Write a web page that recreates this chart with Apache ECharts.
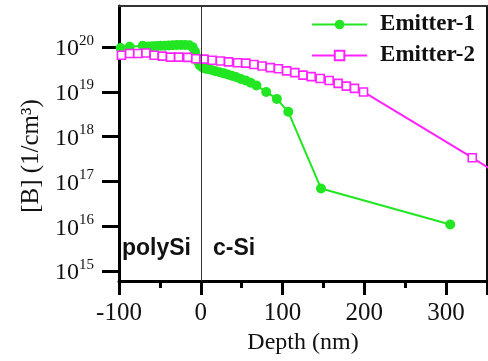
<!DOCTYPE html>
<html>
<head>
<meta charset="utf-8">
<title>Boron profile</title>
<script src="https://cdn.jsdelivr.net/npm/echarts@6/dist/echarts.min.js"></script>
<style>
  html, body { margin: 0; padding: 0; background: #fff; }
  #main { width: 488px; height: 361px; }
</style>
</head>
<body>
<div id="main"></div>
<script type="text/javascript">
// Emitter-1 (green dots)
var depth1 = [-98, -87, -71, -64, -59, -54, -49, -44, -39, -34, -29, -24, -19, -14, -10, -7, -5, -3, -1,
              2, 6, 10, 14, 18, 23, 28, 33, 38, 43, 49, 55, 61, 68, 80, 93, 107, 147, 305];
var conc1 = [9.6e19, 1.02e20, 1.07e20, 1.04e20, 1.05e20, 1.06e20, 1.07e20, 1.08e20, 1.09e20, 1.1e20, 1.12e20, 1.12e20, 1.12e20, 1.1e20, 1.0e20, 8e19, 6e19, 4.6e19, 3.9e19,
             3.5e19, 3.3e19, 3.2e19, 3.05e19, 2.9e19, 2.75e19, 2.6e19, 2.45e19, 2.3e19, 2.15e19, 1.95e19, 1.8e19, 1.6e19, 1.4e19, 1.0e19, 7e18, 3.6e18, 7e16, 1.1e16];
// Emitter-2 (magenta open squares)
var depth2 = [-97, -87, -77, -67, -57, -47, -37, -27, -16, -6, 4, 14, 24, 34, 45, 55, 65, 75, 85, 95,
              105, 115, 125, 135, 146, 157, 168, 178, 188, 199, 332, 400];
var conc2 = [6.6e19, 7.2e19, 7.2e19, 7.4e19, 6.6e19, 6.3e19, 6.0e19, 6.0e19, 5.9e19, 5.5e19, 5.4e19, 5.1e19, 4.9e19, 4.7e19, 4.5e19, 4.4e19, 4.1e19, 3.8e19, 3.5e19, 3.3e19,
             2.95e19, 2.7e19, 2.37e19, 2.2e19, 2.0e19, 1.8e19, 1.55e19, 1.35e19, 1.2e19, 1.0e19, 3.4e17, 5.6e16];
var yTicks = [1e15, 1e16, 1e17, 1e18, 1e19, 1e20];

function pairs(xs, ys) {
    return xs.map(function (x, i) { return [x, ys[i]]; });
}

var serif = "'Liberation Serif', 'Times New Roman', serif";
var myChart = echarts.init(document.getElementById('main'));
var option = {
    animation: false,
    grid: { left: 119, right: 1, top: 6, bottom: 80, show: true, borderColor: '#111', borderWidth: 2 },
    legend: {
        orient: 'vertical',
        right: 8,
        top: 8,
        itemWidth: 55,
        itemHeight: 12,
        itemGap: 8,
        textStyle: { fontFamily: serif, fontWeight: 'bold', fontSize: 23, color: '#111', lineHeight: 21, padding: [0, 0, 0, 8] },
        data: ['Emitter-1', 'Emitter-2']
    },
    xAxis: [{
        type: 'value',
        min: -100,
        max: 350,
        interval: 100,
        name: 'Depth (nm)',
        nameLocation: 'middle',
        nameGap: 50,
        nameTextStyle: { fontFamily: serif, fontSize: 24, color: '#111' },
        axisLine: { onZero: false, lineStyle: { color: '#000', width: 3 } },
        axisTick: { inside: false, length: 14, lineStyle: { color: '#000', width: 3 } },
        minorTick: { show: true, splitNumber: 2, length: 7, lineStyle: { color: '#000', width: 3 } },
        axisLabel: { margin: 20, fontFamily: serif, fontSize: 25, color: '#111', showMaxLabel: false },
        splitLine: { show: false }
    }, {
        type: 'value',
        position: 'top',
        min: -100,
        max: 350,
        axisLine: { show: true, onZero: false, lineStyle: { color: '#333', width: 2 } },
        axisTick: { show: false },
        axisLabel: { show: false },
        splitLine: { show: false }
    }],
    yAxis: {
        type: 'log',
        logBase: 10,
        min: 6e14,
        max: 8.3e20,
        name: '[B] (1/cm³)\u00a0\u00a0\u00a0\u00a0',
        nameLocation: 'middle',
        nameGap: 74,
        nameTextStyle: { fontFamily: serif, fontSize: 25, color: '#111' },
        axisLine: { show: true, onZero: false, lineStyle: { color: '#000', width: 3 } },
        axisTick: { show: true, length: 17, customValues: yTicks, lineStyle: { color: '#000', width: 3 } },
        axisLabel: {
            margin: 25,
            customValues: yTicks,
            formatter: function (v) {
                var e = Math.round(Math.log10(v));
                return '{a|10}{b|' + e + '}';
            },
            rich: {
                a: { fontFamily: serif, fontSize: 24, color: '#111', lineHeight: 28, verticalAlign: 'bottom' },
                b: { fontFamily: serif, fontSize: 15, color: '#111', lineHeight: 15, verticalAlign: 'top' }
            }
        },
        splitLine: { show: false }
    },
    series: [{
        name: 'Emitter-1',
        type: 'line',
        data: pairs(depth1, conc1),
        symbol: 'circle',
        symbolSize: 10,
        color: '#22e622',
        lineStyle: { width: 2, color: '#22e622' },
        itemStyle: { color: '#22e622' },
        markLine: {
            silent: true,
            symbol: 'none',
            label: { show: false },
            lineStyle: { color: '#333', width: 1, type: 'solid' },
            data: [{ xAxis: 0 }]
        }
    }, {
        name: 'Emitter-2',
        type: 'line',
        data: pairs(depth2, conc2),
        symbol: 'rect',
        symbolSize: 8,
        color: '#ff22ff',
        lineStyle: { width: 2, color: '#ff22ff' },
        itemStyle: { color: '#fff', borderColor: '#ff22ff', borderWidth: 1.6 }
    }],
    graphic: [{
        type: 'text',
        left: 122,
        top: 237,
        style: { text: 'polySi', font: "bold 23px 'Liberation Sans', Arial, sans-serif", fill: '#111' }
    }, {
        type: 'text',
        left: 213,
        top: 237,
        style: { text: 'c-Si', font: "bold 23px 'Liberation Sans', Arial, sans-serif", fill: '#111' }
    }]
};
myChart.setOption(option);
</script>
</body>
</html>
